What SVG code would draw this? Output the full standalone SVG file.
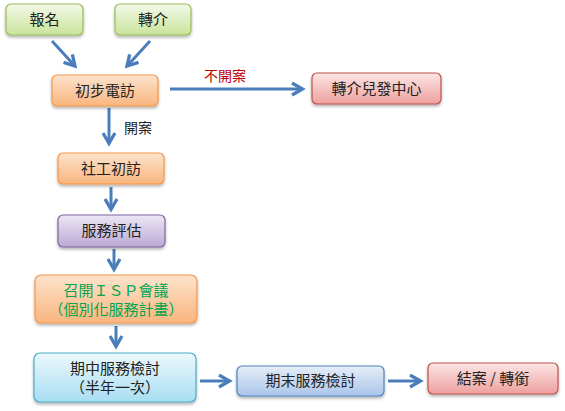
<svg xmlns="http://www.w3.org/2000/svg" width="565" height="411" viewBox="0 0 565 411">
<defs>
<linearGradient id="gGreen" x1="0" y1="0" x2="0" y2="1"><stop offset="0" stop-color="#f3f9e9"/><stop offset="1" stop-color="#c9e39b"/></linearGradient>
<linearGradient id="gOrange" x1="0" y1="0" x2="0" y2="1"><stop offset="0" stop-color="#fde3cd"/><stop offset="1" stop-color="#f9b57e"/></linearGradient>
<linearGradient id="gPurple" x1="0" y1="0" x2="0" y2="1"><stop offset="0" stop-color="#ece6f5"/><stop offset="1" stop-color="#bba9d4"/></linearGradient>
<linearGradient id="gCyan" x1="0" y1="0" x2="0" y2="1"><stop offset="0" stop-color="#ecf8fd"/><stop offset="1" stop-color="#a8def2"/></linearGradient>
<linearGradient id="gBlue" x1="0" y1="0" x2="0" y2="1"><stop offset="0" stop-color="#e6eef8"/><stop offset="1" stop-color="#a9c5ea"/></linearGradient>
<linearGradient id="gRed" x1="0" y1="0" x2="0" y2="1"><stop offset="0" stop-color="#fbe6e5"/><stop offset="1" stop-color="#eda09e"/></linearGradient>
<filter id="sh" x="-10%" y="-20%" width="120%" height="150%"><feDropShadow dx="0" dy="2" stdDeviation="1.5" flood-color="#000" flood-opacity="0.3"/></filter>
<marker id="ah" viewBox="0 0 10 10" refX="7" refY="5" markerWidth="5" markerHeight="5" orient="auto" markerUnits="strokeWidth"><path d="M1,1 L8,5 L1,9" fill="none" stroke="#4a7ebb" stroke-width="2.2"/></marker>
</defs>
<style>
.t{font-family:"Noto Sans CJK TC","Noto Sans CJK SC",sans-serif;font-size:15px;fill:#222;text-anchor:middle;text-spacing-trim:space-all}
.box{filter:url(#sh);stroke-width:1.2}
.c{fill:none;stroke:#4a7ebb;stroke-width:3;marker-end:url(#ah)}
</style>
<rect width="565" height="411" fill="#fff"/>
<g id="connectors">
<line class="c" x1="52" y1="41" x2="74" y2="65"/>
<line class="c" x1="150" y1="41" x2="128" y2="65"/>
<line class="c" x1="170" y1="89" x2="301" y2="89"/>
<line class="c" x1="109" y1="108" x2="109" y2="142"/>
<line class="c" x1="111" y1="187" x2="111" y2="208"/>
<line class="c" x1="114" y1="249" x2="114" y2="268"/>
<line class="c" x1="116" y1="326" x2="116" y2="345"/>
<line class="c" x1="200" y1="381" x2="228" y2="381"/>
<line class="c" x1="388" y1="381" x2="419" y2="381"/>
<text x="225" y="81" class="t" style="fill:#c00000;font-size:14px">不開案</text>
<text x="138" y="133" class="t" style="font-size:14px">開案</text>
</g>
<g id="n1"><rect class="box" x="6" y="4" width="77" height="31" rx="5" fill="url(#gGreen)" stroke="#9bbb59"/><text class="t" x="44.5" y="25">報名</text></g>
<g id="n2"><rect class="box" x="115" y="4" width="76" height="31" rx="5" fill="url(#gGreen)" stroke="#9bbb59"/><text class="t" x="153" y="25">轉介</text></g>
<g id="n3"><rect class="box" x="52" y="75" width="106" height="31" rx="5" fill="url(#gOrange)" stroke="#f79646"/><text class="t" x="105" y="96">初步電訪</text></g>
<g id="n4"><rect class="box" x="312" y="73" width="129" height="31" rx="5" fill="url(#gRed)" stroke="#c0504d"/><text class="t" x="376.5" y="94">轉介兒發中心</text></g>
<g id="n5"><rect class="box" x="58" y="153" width="106" height="31" rx="5" fill="url(#gOrange)" stroke="#f79646"/><text class="t" x="111" y="174">社工初訪</text></g>
<g id="n6"><rect class="box" x="58" y="215" width="107" height="32" rx="5" fill="url(#gPurple)" stroke="#8064a2"/><text class="t" x="111.5" y="236">服務評估</text></g>
<g id="n7"><rect class="box" x="35" y="275" width="162" height="48" rx="6" fill="url(#gOrange)" stroke="#f79646"/><text class="t" x="116" y="296" style="fill:#00a650">召開ＩＳＰ會議</text><text class="t" x="116" y="315" style="fill:#00a650">&#x2060;（個別化服務計畫）</text></g>
<g id="n8"><rect class="box" x="34" y="353" width="162" height="49" rx="6" fill="url(#gCyan)" stroke="#4bacc6"/><text class="t" x="115" y="374">期中服務檢討</text><text class="t" x="115" y="393">&#x2060;（半年一次）</text></g>
<g id="n9"><rect class="box" x="237" y="366" width="147" height="30" rx="5" fill="url(#gBlue)" stroke="#4f81bd"/><text class="t" x="310.5" y="386">期末服務檢討</text></g>
<g id="n10"><rect class="box" x="428" y="363" width="130" height="31" rx="5" fill="url(#gRed)" stroke="#c0504d"/><text class="t" x="493" y="384">結案 / 轉銜</text></g>
</svg>
